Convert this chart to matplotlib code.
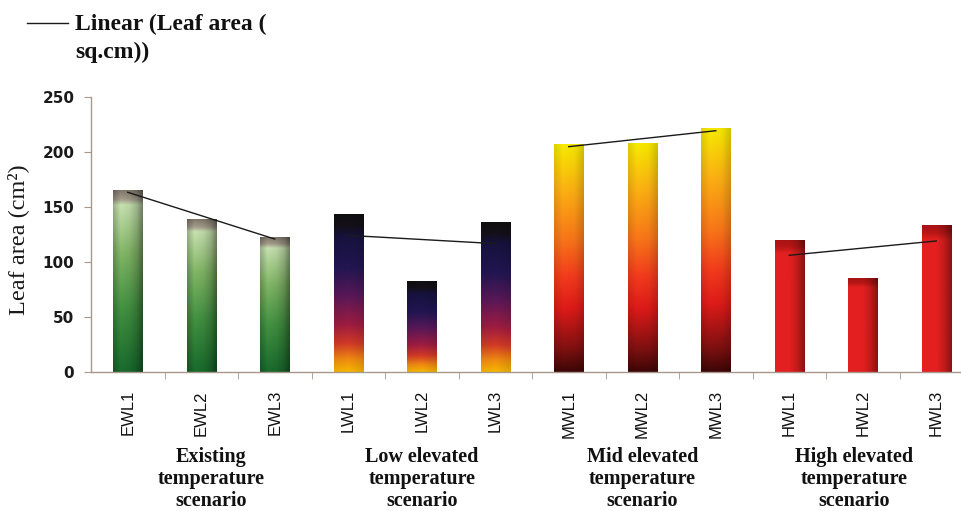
import numpy as np
import matplotlib.pyplot as plt
from matplotlib.colors import LinearSegmentedColormap
from matplotlib.lines import Line2D
from matplotlib import transforms

# leaf area per treatment, three lines per temperature scenario
labels = ["EWL1", "EWL2", "EWL3", "LWL1", "LWL2", "LWL3",
          "MWL1", "MWL2", "MWL3", "HWL1", "HWL2", "HWL3"]
leaf_area = [165, 139, 122.5, 143.5, 82, 136, 207, 208, 221.5, 120, 85, 133]
scenarios = ["Existing\ntemperature\nscenario",
             "Low elevated\ntemperature\nscenario",
             "Mid elevated\ntemperature\nscenario",
             "High elevated\ntemperature\nscenario"]

# bar fills: vertical colour stops (bottom -> top) and a sideways shading
fills = [
    [(0.0, "#17652a"), (0.35, "#3f8a3e"), (0.65, "#7aac60"), (0.92, "#bcd5a6"),
     (0.95, "#9c9484"), (1.0, "#7a7266")],
    [(0.0, "#f7b800"), (0.08, "#f08a12"), (0.18, "#d23a26"), (0.3, "#9e1c42"),
     (0.48, "#5a1858"), (0.66, "#221652"), (0.86, "#16123e"), (0.93, "#141018"),
     (1.0, "#0f0f10")],
    [(0.0, "#3c0606"), (0.1, "#7c1010"), (0.28, "#d81a18"), (0.42, "#ec3a1c"),
     (0.58, "#f27218"), (0.8, "#f5ac12"), (1.0, "#f1e400")],
    [(0.0, "#e41f1f"), (0.9, "#e32020"), (0.95, "#b81616"), (1.0, "#a81414")],
]
shades = [
    ([0, 0.25, 0.55, 0.8, 1], [0.82, 1.06, 1.0, 0.85, 0.6]),
    ([0, 0.5, 1], [0.95, 1.0, 0.9]),
    ([0, 0.3, 0.7, 1], [0.92, 1.03, 1.0, 0.85]),
    ([0, 0.5, 0.75, 1], [1.0, 1.0, 0.85, 0.6]),
]
# small sideways nudges for the scenario names
name_shift = [0.14, 0.0, 0.0, -0.12]


def bar_image(stops, shade):
    cmap = LinearSegmentedColormap.from_list("fill", stops)
    rows = cmap(np.linspace(0, 1, 256))[:, :3]
    f = np.interp(np.linspace(0, 1, 40), *shade)
    return np.clip(rows[:, None, :] * f[None, :, None], 0, 1)


fig = plt.figure(figsize=(9.62, 5.11), dpi=100)
ax = fig.add_axes([0.0946, 0.272, 0.9054, 0.538])

x = np.arange(len(labels))
width = 0.4
for i, v in enumerate(leaf_area):
    g = i // 3
    ax.imshow(bar_image(fills[g], shades[g]), origin="lower", aspect="auto",
              interpolation="bilinear", zorder=2,
              extent=[x[i] - width / 2, x[i] + width / 2, 0, v])

# linear trend of each scenario
for g in range(4):
    xs = x[3 * g:3 * g + 3]
    ys = leaf_area[3 * g:3 * g + 3]
    k, b = np.polyfit(xs, ys, 1)
    ax.plot([xs[0], xs[-1]], [k * xs[0] + b, k * xs[-1] + b],
            color="#1a1a1a", lw=1.0, zorder=3)

ax.set_xlim(-0.5, 11.35)
ax.set_ylim(0, 250)
ax.set_yticks(range(0, 251, 50))

axis_col = "#a8978c"
for s in ["top", "right"]:
    ax.spines[s].set_visible(False)
for s in ["left", "bottom"]:
    ax.spines[s].set_color(axis_col)
    ax.spines[s].set_linewidth(1.0)

ax.tick_params(axis="y", direction="out", length=5, color=axis_col, pad=7,
               labelsize=11, labelcolor="#1a1a1a")
for t in ax.get_yticklabels():
    t.set_fontweight("bold")
    t.set_family("DejaVu Sans")

ax.set_xticks(x)
ax.set_xticklabels(labels, rotation=90, family="Liberation Sans", fontsize=12,
                   color="#111111")
ax.tick_params(axis="x", which="major", length=0, pad=13)
ax.set_xticks(np.arange(0.5, 11, 1), minor=True)
ax.tick_params(axis="x", which="minor", direction="out", length=5,
               color=axis_col)

fig.text(18 / 962, 1 - 240 / 511, "Leaf area (cm²)", rotation=90,
         ha="center", va="center", family="Liberation Serif", fontsize=17.5,
         color="#1a1a1a")

# scenario names under each group of bars
trans = transforms.blended_transform_factory(ax.transData, fig.transFigure)
for g, name in enumerate(scenarios):
    ax.text(3 * g + 1 + name_shift[g], 1 - 447 / 511, name, transform=trans,
            ha="center", va="top", family="Liberation Serif",
            fontweight="bold", fontsize=14.5, linespacing=1.13,
            color="#111111")

# trend line key
fig.add_artist(Line2D([27 / 962, 68 / 962], [1 - 22.7 / 511, 1 - 22.7 / 511],
                      color="#1a1a1a", lw=1.0, transform=fig.transFigure))
fig.text(75 / 962, 1 - 30 / 511, "Linear (Leaf area (", ha="left",
         va="baseline", family="Liberation Serif", fontweight="bold",
         fontsize=17, color="#111111")
fig.text(75 / 962, 1 - 58 / 511, "sq.cm))", ha="left", va="baseline",
         family="Liberation Serif", fontweight="bold", fontsize=17,
         color="#111111")

fig.savefig("out.png", dpi=100)
